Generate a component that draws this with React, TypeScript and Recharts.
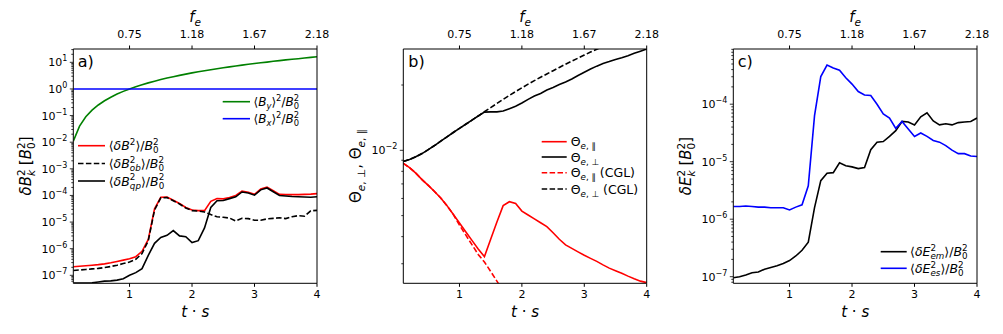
import React from 'react';
import { LineChart, Line, XAxis, YAxis } from 'recharts';

const FONT = "'DejaVu Sans', 'Liberation Sans', sans-serif";

// ---------------- data ----------------
const T = [0.1, 0.2, 0.3, 0.4, 0.5, 0.6, 0.7, 0.8, 0.9, 1.0, 1.1, 1.2, 1.3, 1.4, 1.5, 1.6, 1.7, 1.8, 1.9, 2.0,
  2.1, 2.2, 2.3, 2.4, 2.5, 2.6, 2.7, 2.8, 2.9, 3.0, 3.1, 3.2, 3.3, 3.4, 3.5, 3.6, 3.7, 3.8, 3.9, 4.0];
const T_TICKS = [1, 2, 3, 4];
const T_LABELS = ['1', '2', '3', '4'];
const FE_LABELS = ['0.75', '1.18', '1.67', '2.18'];

// panel a (values, and log10 values)
const BY2 = [0.011, 0.04, 0.09, 0.16, 0.25, 0.36, 0.49, 0.64, 0.81, 1.0, 1.21, 1.44, 1.69, 1.96, 2.25, 2.56, 2.89, 3.24, 3.61, 4.0,
  4.41, 4.84, 5.29, 5.76, 6.25, 6.76, 7.29, 7.84, 8.41, 9.0, 9.61, 10.2, 10.9, 11.6, 12.3, 13.0, 13.7, 14.5, 15.3, 16.2];
const BX2 = [1, 1, 1, 1, 1, 1, 1, 1, 1, 1, 1, 1, 1, 1, 1, 1, 1, 1, 1, 1,
  1, 1, 1, 1, 1, 1, 1, 1, 1, 1, 1, 1, 1, 1, 1, 1, 1, 1, 1, 1];
const DB2_LOG = [-6.68, -6.66, -6.64, -6.62, -6.6, -6.57, -6.53, -6.48, -6.43, -6.38, -6.3, -6.1, -5.65, -4.5, -4.07, -4.06, -4.18, -4.3, -4.45, -4.55,
  -4.57, -4.57, -4.22, -4.12, -4.13, -4.08, -4.0, -3.84, -3.88, -3.96, -3.76, -3.69, -3.82, -3.96, -3.97, -3.97, -3.97, -3.96, -3.95, -3.93];
const DB2_OB_LOG = [-6.82, -6.8, -6.78, -6.76, -6.74, -6.71, -6.67, -6.62, -6.56, -6.5, -6.4, -6.18, -5.7, -4.55, -4.09, -4.08, -4.2, -4.32, -4.47, -4.57,
  -4.59, -4.62, -4.72, -4.8, -4.82, -4.85, -4.96, -4.86, -4.87, -4.93, -4.93, -4.88, -4.86, -4.84, -4.87, -4.8, -4.76, -4.78, -4.58, -4.56];
const DB2_QP_LOG = [-7.29, -7.29, -7.29, -7.28, -7.25, -7.22, -7.21, -7.18, -7.13, -7.0, -6.9, -6.75, -6.25, -5.8, -5.58, -5.5, -5.32, -5.52, -5.55, -5.77,
  -5.7, -5.22, -4.45, -4.2, -4.19, -4.12, -4.05, -3.87, -3.91, -3.99, -3.79, -3.72, -3.86, -4.0, -4.02, -4.04, -4.05, -4.06, -4.07, -4.05];

// panel b (log10 values)
const TH_PERP_LOG = [-2.052, -2.042, -2.03, -2.015, -1.997, -1.978, -1.958, -1.938, -1.918, -1.899, -1.88, -1.861, -1.842, -1.824, -1.823, -1.823, -1.819, -1.808, -1.797, -1.782,
  -1.765, -1.75, -1.738, -1.722, -1.71, -1.697, -1.685, -1.671, -1.655, -1.64, -1.625, -1.612, -1.6, -1.591, -1.581, -1.573, -1.564, -1.553, -1.543, -1.533];
const TH_PAR_LOG = [-2.06, -2.08, -2.105, -2.135, -2.162, -2.19, -2.22, -2.255, -2.295, -2.335, -2.375, -2.415, -2.455, -2.49, -2.41, -2.33, -2.255, -2.237, -2.245, -2.28,
  -2.298, -2.316, -2.334, -2.352, -2.38, -2.41, -2.436, -2.452, -2.468, -2.484, -2.498, -2.512, -2.528, -2.543, -2.555, -2.567, -2.58, -2.592, -2.603, -2.61];
const TH_PERP_CGL_LOG = [-2.052, -2.042, -2.03, -2.015, -1.997, -1.978, -1.958, -1.938, -1.918, -1.899, -1.88, -1.861, -1.842, -1.822, -1.803, -1.784, -1.765, -1.747, -1.729, -1.712,
  -1.695, -1.679, -1.663, -1.648, -1.633, -1.618, -1.603, -1.589, -1.575, -1.561, -1.547, -1.534, -1.521, -1.508, null, null, null, null, null, null];
const TH_PAR_CGL_LOG = [-2.06, -2.08, -2.105, -2.135, -2.162, -2.19, -2.22, -2.255, -2.295, -2.345, -2.39, -2.435, -2.48, -2.515, -2.558, -2.603, -2.65, null, null, null,
  null, null, null, null, null, null, null, null, null, null, null, null, null, null, null, null, null, null, null, null];

// panel c (log10 values)
const EM_LOG = [-7.02, -7.0, -6.97, -6.93, -6.92, -6.87, -6.84, -6.81, -6.77, -6.72, -6.64, -6.54, -6.4, -5.8, -5.33, -5.2, -5.19, -5.02, -5.07, -5.09,
  -5.12, -5.1, -4.79, -4.66, -4.65, -4.56, -4.46, -4.3, -4.31, -4.36, -4.22, -4.15, -4.29, -4.36, -4.34, -4.36, -4.32, -4.31, -4.3, -4.24];
const ES_LOG = [-5.78, -5.78, -5.77, -5.78, -5.79, -5.79, -5.8, -5.8, -5.8, -5.84, -5.79, -5.75, -5.42, -4.2, -3.52, -3.32, -3.37, -3.41, -3.54, -3.65,
  -3.78, -3.84, -3.85, -4.0, -4.17, -4.24, -4.42, -4.3, -4.43, -4.56, -4.5, -4.56, -4.63, -4.66, -4.72, -4.8, -4.86, -4.86, -4.9, -4.91];

const fromLog = (v: number | null) => (v === null ? null : Math.pow(10, v));

const dataA = T.map((t, i) => ({
  t, by2: BY2[i], bx2: BX2[i], db2: fromLog(DB2_LOG[i]), ob: fromLog(DB2_OB_LOG[i]), qp: fromLog(DB2_QP_LOG[i]),
}));
const dataB = T.map((t, i) => ({
  t, perp: fromLog(TH_PERP_LOG[i]), par: fromLog(TH_PAR_LOG[i]),
  perpCgl: fromLog(TH_PERP_CGL_LOG[i]), parCgl: fromLog(TH_PAR_CGL_LOG[i]),
}));
const dataC = T.map((t, i) => ({ t, em: fromLog(EM_LOG[i]), es: fromLog(ES_LOG[i]) }));

const DOM_A: [number, number] = [Math.pow(10, -7.3), Math.pow(10, 1.5)];
const DOM_B: [number, number] = [Math.pow(10, -2.613), Math.pow(10, -1.533)];
const DOM_C: [number, number] = [Math.pow(10, -7.115), Math.pow(10, -3.04)];

function logTicks(lo: number, hi: number): number[] {
  const out: number[] = [];
  for (let e = Math.floor(Math.log10(lo)); e <= Math.ceil(Math.log10(hi)); e++) {
    for (let k = 1; k <= 9; k++) {
      const v = k * Math.pow(10, e);
      if (v >= lo && v <= hi) out.push(v);
    }
  }
  return out;
}

// ---------------- text helpers ----------------
type P = { t: string; it?: boolean; pos?: 'sub' | 'sup'; dxs?: number };
const stack = (sub: string, sup: string, itSub: boolean): P[] => [
  { t: sup, pos: 'sup' },
  { t: sub, pos: 'sub', it: itSub, dxs: -0.636 * sup.length },
];

function MT({ x, y, fs, parts, anchor = 'start', rot = false, fill = '#000' }: any) {
  const sm = fs * 0.7;
  let cur = 0;
  const spans = (parts as P[]).map((p, i) => {
    const target = p.pos === 'sub' ? fs * 0.24 : p.pos === 'sup' ? -fs * 0.42 : 0;
    const dy = target - cur;
    cur = target;
    return (
      <tspan key={i} dy={dy} dx={p.dxs ? p.dxs * sm : 0} fontSize={p.pos ? sm : fs}
        fontStyle={p.it ? 'italic' : 'normal'}>{p.t}</tspan>
    );
  });
  return (
    <text x={x} y={y} fontSize={fs} fontFamily={FONT} fill={fill} textAnchor={anchor}
      style={{ whiteSpace: 'pre' }} transform={rot ? `rotate(-90 ${x} ${y})` : undefined}>
      {spans}
    </text>
  );
}

const B0SQ: P[] = [{ t: 'B', it: true }, ...stack('0', '2', false)];
const L_BY: P[] = [{ t: '⟨' }, { t: 'B', it: true }, { t: 'y', it: true, pos: 'sub' }, { t: '⟩' }, { t: '2', pos: 'sup' }, { t: '/' }, ...B0SQ];
const L_BX: P[] = [{ t: '⟨' }, { t: 'B', it: true }, { t: 'x', it: true, pos: 'sub' }, { t: '⟩' }, { t: '2', pos: 'sup' }, { t: '/' }, ...B0SQ];
const L_DB: P[] = [{ t: '⟨' }, { t: 'δB', it: true }, { t: '2', pos: 'sup' }, { t: '⟩' }, { t: '/' }, ...B0SQ];
const L_OB: P[] = [{ t: '⟨' }, { t: 'δB', it: true }, ...stack('ob', '2', true), { t: '⟩' }, { t: '/' }, ...B0SQ];
const L_QP: P[] = [{ t: '⟨' }, { t: 'δB', it: true }, ...stack('qp', '2', true), { t: '⟩' }, { t: '/' }, ...B0SQ];
const L_PAR: P[] = [{ t: 'Θ' }, { t: 'e', it: true, pos: 'sub' }, { t: ', ∥', pos: 'sub' }];
const L_PERP: P[] = [{ t: 'Θ' }, { t: 'e', it: true, pos: 'sub' }, { t: ', ⊥', pos: 'sub' }];
const L_PAR_CGL: P[] = [...L_PAR, { t: ' (CGL)' }];
const L_PERP_CGL: P[] = [...L_PERP, { t: ' (CGL)' }];
const L_EM: P[] = [{ t: '⟨' }, { t: 'δE', it: true }, ...stack('em', '2', true), { t: '⟩' }, { t: '/' }, ...B0SQ];
const L_ES: P[] = [{ t: '⟨' }, { t: 'δE', it: true }, ...stack('es', '2', true), { t: '⟩' }, { t: '/' }, ...B0SQ];
const Y_A: P[] = [{ t: 'δB', it: true }, ...stack('k', '2', true), { t: ' [' }, ...B0SQ, { t: ']' }];
const Y_B: P[] = [...L_PERP, { t: ', Θ' }, { t: 'e', it: true, pos: 'sub' }, { t: ', ∥', pos: 'sub' }];
const Y_C: P[] = [{ t: 'δE', it: true }, ...stack('k', '2', true), { t: ' [' }, ...B0SQ, { t: ']' }];
const X_LAB: P[] = [{ t: 't', it: true }, { t: ' · ' }, { t: 's', it: true }];
const F_LAB: P[] = [{ t: 'f', it: true }, { t: 'e', it: true, pos: 'sub' }];

// ---------------- axes ----------------
const AXIS_X = 73.3;
const makeYTick = () => (props: any) => {
  const { y, payload } = props;
  const v = payload.value as number;
  const e = Math.floor(Math.log10(v) + 1e-9);
  const mant = Math.round(v / Math.pow(10, e));
  const major = mant === 1;
  const len = major ? 3.5 : 2;
  const es = e < 0 ? '−' + String(-e) : String(e);
  return (
    <g>
      <line x1={AXIS_X - len} x2={AXIS_X} y1={y} y2={y} stroke="#000" strokeWidth={0.8} />
      {major && (
        <text x={AXIS_X - 6} y={y} dy={4} textAnchor="end" fontSize={11} fontFamily={FONT} fill="#000">
          10<tspan dy={-5} fontSize={8}>{es}</tspan>
        </text>
      )}
    </g>
  );
};

const tickStyle = { fill: '#000', fontSize: 11, fontFamily: FONT };

function Panel({ left, width, data, dom, right, children }: any) {
  return (
    <div style={{ position: 'absolute', left, top: 0 }}>
      <LineChart width={width} height={334} data={data} margin={{ top: 19, right, bottom: 10.7, left: 13.3 }}>
        <XAxis type="number" dataKey="t" domain={[0.1, 4]} ticks={T_TICKS} allowDataOverflow interval={0}
          height={40} stroke="#000" tickSize={3.5} tickMargin={3} tick={tickStyle}
          tickFormatter={(v: number) => T_LABELS[T_TICKS.indexOf(v)]} />
        <XAxis xAxisId="top" orientation="top" type="number" dataKey="t" domain={[0.1, 4]} ticks={T_TICKS}
          allowDataOverflow interval={0} height={30} stroke="#000" tickSize={3.5} tickMargin={8} tick={tickStyle}
          tickFormatter={(v: number) => FE_LABELS[T_TICKS.indexOf(v)]} />
        <YAxis scale="log" type="number" domain={dom} allowDataOverflow ticks={logTicks(dom[0], dom[1])}
          interval={0} width={60} stroke="#000" tickLine={false} tick={makeYTick()} />
        <YAxis yAxisId="r" orientation="right" type="number" domain={[0, 1]} width={1} tick={false}
          tickLine={false} stroke="#000" />
        {children}
      </LineChart>
    </div>
  );
}

function LegRow({ x1, x2, y, color, dash, tx, parts, fs }: any) {
  return (
    <g>
      <line x1={x1} x2={x2} y1={y} y2={y} stroke={color} strokeWidth={1.6} strokeDasharray={dash} />
      <MT x={tx} y={y + fs * 0.36} fs={fs} parts={parts} />
    </g>
  );
}

export default function App() {
  const lw = 1.6;
  const DASH = '5.5 2.4';
  const LF = 12.5;
  const AF = 15;
  return (
    <div style={{ position: 'absolute', left: 0, top: 0, width: 1003, height: 334, background: '#fff', fontFamily: FONT }}>
      <Panel left={0} width={330} data={dataA} dom={DOM_A} right={12}>
        <Line dataKey="db2" stroke="#ff0000" strokeWidth={lw} dot={false} isAnimationActive={false} />
        <Line dataKey="ob" stroke="#000" strokeWidth={lw} strokeDasharray={DASH} dot={false} isAnimationActive={false} />
        <Line dataKey="qp" stroke="#000" strokeWidth={lw} dot={false} isAnimationActive={false} />
        <Line dataKey="by2" stroke="#008000" strokeWidth={lw} dot={false} isAnimationActive={false} />
        <Line dataKey="bx2" stroke="#0000ff" strokeWidth={lw} dot={false} isAnimationActive={false} />
      </Panel>
      <Panel left={330} width={330} data={dataB} dom={DOM_B} right={12.3}>
        <Line dataKey="par" stroke="#ff0000" strokeWidth={lw} dot={false} isAnimationActive={false} />
        <Line dataKey="perp" stroke="#000" strokeWidth={lw} dot={false} isAnimationActive={false} />
        <Line dataKey="parCgl" stroke="#ff0000" strokeWidth={lw} strokeDasharray={DASH} dot={false} isAnimationActive={false} />
        <Line dataKey="perpCgl" stroke="#000" strokeWidth={lw} strokeDasharray={DASH} dot={false} isAnimationActive={false} />
      </Panel>
      <Panel left={660} width={343} data={dataC} dom={DOM_C} right={25}>
        <Line dataKey="em" stroke="#000" strokeWidth={lw} dot={false} isAnimationActive={false} />
        <Line dataKey="es" stroke="#0000ff" strokeWidth={lw} dot={false} isAnimationActive={false} />
      </Panel>
      <svg width={1003} height={334} style={{ position: 'absolute', left: 0, top: 0, pointerEvents: 'none' }}>
        {/* panel labels */}
        <text x={77.7} y={67} fontSize={16} fontFamily={FONT}>a)</text>
        <text x={408.3} y={67} fontSize={16} fontFamily={FONT}>b)</text>
        <text x={737.7} y={67} fontSize={16} fontFamily={FONT}>c)</text>
        {/* top labels */}
        <MT x={195.2} y={22} fs={AF} parts={F_LAB} anchor="middle" />
        <MT x={525} y={22} fs={AF} parts={F_LAB} anchor="middle" />
        <MT x={855.2} y={22} fs={AF} parts={F_LAB} anchor="middle" />
        {/* bottom labels */}
        <MT x={195.2} y={316.5} fs={AF} parts={X_LAB} anchor="middle" />
        <MT x={525} y={316.5} fs={AF} parts={X_LAB} anchor="middle" />
        <MT x={855.2} y={316.5} fs={AF} parts={X_LAB} anchor="middle" />
        {/* y labels */}
        <MT x={31} y={166} fs={AF} parts={Y_A} anchor="middle" rot />
        <MT x={361} y={166} fs={AF} parts={Y_B} anchor="middle" rot />
        <MT x={691} y={166} fs={AF} parts={Y_C} anchor="middle" rot />
        {/* legends a */}
        <LegRow x1={222.7} x2={250} y={101.7} color="#008000" tx={253.5} parts={L_BY} fs={12} />
        <LegRow x1={222.7} x2={250} y={118.7} color="#0000ff" tx={253.5} parts={L_BX} fs={12} />
        <LegRow x1={78} x2={105} y={145.7} color="#ff0000" tx={108.7} parts={L_DB} fs={LF} />
        <LegRow x1={78} x2={105} y={163.5} color="#000" dash={DASH} tx={108.7} parts={L_OB} fs={LF} />
        <LegRow x1={78} x2={105} y={181} color="#000" tx={108.7} parts={L_QP} fs={LF} />
        {/* legends b */}
        <LegRow x1={541.7} x2={566.7} y={141.7} color="#ff0000" tx={570.7} parts={L_PAR} fs={LF} />
        <LegRow x1={541.7} x2={566.7} y={157} color="#000" tx={570.7} parts={L_PERP} fs={LF} />
        <LegRow x1={541.7} x2={566.7} y={172.7} color="#ff0000" dash={DASH} tx={570.7} parts={L_PAR_CGL} fs={LF} />
        <LegRow x1={541.7} x2={566.7} y={189} color="#000" dash={DASH} tx={570.7} parts={L_PERP_CGL} fs={LF} />
        {/* legends c */}
        <LegRow x1={880.7} x2={906.7} y={251.7} color="#000" tx={910} parts={L_EM} fs={LF} />
        <LegRow x1={880.7} x2={906.7} y={268.3} color="#0000ff" tx={910} parts={L_ES} fs={LF} />
      </svg>
    </div>
  );
}
